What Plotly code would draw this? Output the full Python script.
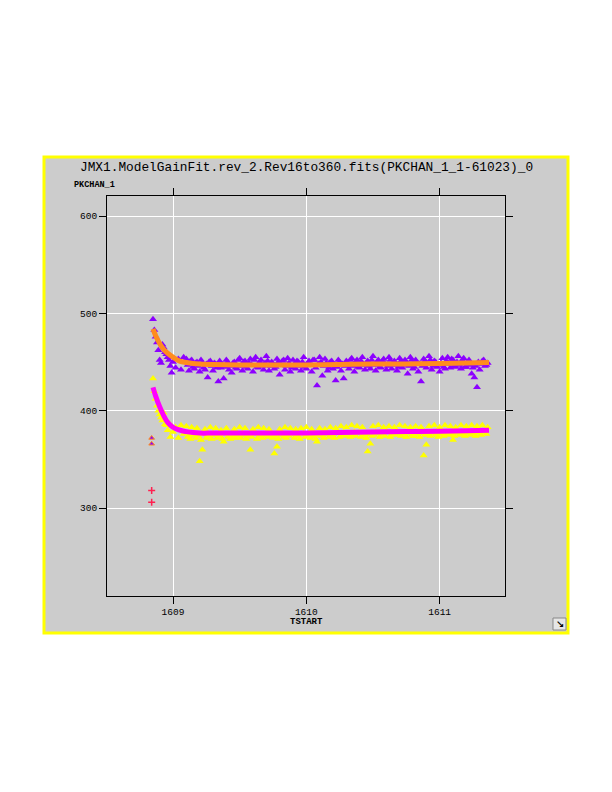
import plotly.graph_objects as go

# ---------------- data ----------------
x_early = [1608.85, 1608.86, 1608.87, 1608.88, 1608.89, 1608.90, 1608.91, 1608.92, 1608.93, 1608.94,
           1608.95, 1608.96, 1608.97, 1608.98, 1608.99, 1609.00, 1609.02, 1609.04, 1609.06, 1609.08]
purple_early = [494, 483, 476, 470, 462, 452, 449, 468, 465, 460,
                458, 455, 452, 446, 439, 450, 444, 453, 442, 455]
yellow_early = [433, 420, 412, 405, 400, 396, 393, 390, 398, 386,
                385, 380, 387, 373, 384, 378, 383, 372, 385, 376]

x_main = [
    1609.10, 1609.12, 1609.14, 1609.16, 1609.18, 1609.20, 1609.22, 1609.24, 1609.26, 1609.28,
    1609.30, 1609.32, 1609.34, 1609.36, 1609.38, 1609.40, 1609.42, 1609.44, 1609.46, 1609.48,
    1609.50, 1609.52, 1609.54, 1609.56, 1609.58, 1609.60, 1609.62, 1609.64, 1609.66, 1609.68,
    1609.70, 1609.72, 1609.74, 1609.76, 1609.78, 1609.80, 1609.82, 1609.84, 1609.86, 1609.88,
    1609.90, 1609.92, 1609.94, 1609.96, 1609.98, 1610.00, 1610.02, 1610.04, 1610.06, 1610.08,
    1610.10, 1610.12, 1610.14, 1610.16, 1610.18, 1610.20, 1610.22, 1610.24, 1610.26, 1610.28,
    1610.30, 1610.32, 1610.34, 1610.36, 1610.38, 1610.40, 1610.42, 1610.44, 1610.46, 1610.48,
    1610.50, 1610.52, 1610.54, 1610.56, 1610.58, 1610.60, 1610.62, 1610.64, 1610.66, 1610.68,
    1610.70, 1610.72, 1610.74, 1610.76, 1610.78, 1610.80, 1610.82, 1610.84, 1610.86, 1610.88,
    1610.90, 1610.92, 1610.94, 1610.96, 1610.98, 1611.00, 1611.02, 1611.04, 1611.06, 1611.08,
    1611.10, 1611.12, 1611.14, 1611.16, 1611.18, 1611.20, 1611.22, 1611.24, 1611.26, 1611.28,
    1611.30, 1611.32, 1611.34, 1611.36]

purple_main = [
    453, 441, 452, 443, 450, 440, 449, 442, 434, 451,
    441, 448, 430, 444, 433, 452, 442, 439, 450, 443,
    454, 441, 451, 443, 453, 440, 455, 444, 452, 442,
    456, 441, 450, 443, 453, 437, 451, 442, 454, 440,
    452, 443, 450, 441, 455, 443, 451, 440, 452, 426,
    455, 436, 453, 441, 450, 443, 431, 452, 441, 433,
    451, 443, 454, 440, 452, 444, 455, 442, 451, 443,
    456, 441, 452, 444, 453, 442, 455, 443, 451, 441,
    454, 444, 452, 438, 455, 443, 452, 440, 430, 453,
    444, 456, 442, 451, 445, 440, 454, 443, 455, 444,
    452, 445, 456, 443, 454, 445, 452, 438, 434, 424,
    442, 451, 446, 449]

yellow_main = [
    384, 374, 383, 376, 382, 348, 360, 381, 375, 383,
    377, 382, 375, 380, 368, 382, 376, 372, 381, 375,
    383, 377, 382, 374, 360, 381, 376, 383, 375, 382,
    377, 381, 374, 356, 363, 381, 376, 383, 375, 382,
    376, 381, 374, 382, 377, 383, 375, 381, 376, 368,
    382, 375, 381, 377, 383, 376, 382, 377, 384, 378,
    383, 377, 385, 378, 384, 377, 383, 376, 358, 366,
    384, 378, 385, 377, 383, 378, 384, 376, 383, 379,
    385, 377, 384, 378, 383, 374, 384, 378, 383, 354,
    365, 384, 378, 385, 377, 383, 379, 385, 376, 384,
    370, 383, 379, 385, 378, 384, 379, 385, 378, 384,
    379, 385, 380, 383]

x_main2 = [
    1609.11, 1609.13, 1609.15, 1609.17, 1609.19, 1609.21, 1609.23, 1609.25, 1609.27, 1609.29,
    1609.31, 1609.33, 1609.35, 1609.37, 1609.39, 1609.41, 1609.43, 1609.45, 1609.47, 1609.49,
    1609.51, 1609.53, 1609.55, 1609.57, 1609.59, 1609.61, 1609.63, 1609.65, 1609.67, 1609.69,
    1609.71, 1609.73, 1609.75, 1609.77, 1609.79, 1609.81, 1609.83, 1609.85, 1609.87, 1609.89,
    1609.91, 1609.93, 1609.95, 1609.97, 1609.99, 1610.01, 1610.03, 1610.05, 1610.07, 1610.09,
    1610.11, 1610.13, 1610.15, 1610.17, 1610.19, 1610.21, 1610.23, 1610.25, 1610.27, 1610.29,
    1610.31, 1610.33, 1610.35, 1610.37, 1610.39, 1610.41, 1610.43, 1610.45, 1610.47, 1610.49,
    1610.51, 1610.53, 1610.55, 1610.57, 1610.59, 1610.61, 1610.63, 1610.65, 1610.67, 1610.69,
    1610.71, 1610.73, 1610.75, 1610.77, 1610.79, 1610.81, 1610.83, 1610.85, 1610.87, 1610.89,
    1610.91, 1610.93, 1610.95, 1610.97, 1610.99, 1611.01, 1611.03, 1611.05, 1611.07, 1611.09,
    1611.11, 1611.13, 1611.15, 1611.17, 1611.19, 1611.21, 1611.23, 1611.25, 1611.27, 1611.29,
    1611.31, 1611.33, 1611.35]

purple_main2 = [
    447, 451, 445, 449, 446, 452, 444, 448, 450, 446,
    449, 444, 451, 447, 445, 450, 446, 449, 444, 452,
    446, 450, 445, 449, 447, 452, 445, 450, 446, 449,
    451, 446, 448, 445, 450, 447, 452, 446, 449, 444,
    448, 451, 446, 450, 445, 449, 447, 452, 444, 448,
    450, 446, 449, 444, 451, 447, 445, 450, 448, 446,
    449, 452, 446, 450, 445, 451, 447, 449, 446, 452,
    447, 450, 445, 451, 448, 446, 452, 447, 449, 445,
    451, 447, 450, 446, 452, 445, 449, 448, 446, 451,
    448, 452, 446, 450, 447, 449, 445, 451, 448, 453,
    446, 450, 447, 452, 445, 449, 447, 444, 446, 450,
    448, 452, 447]

yellow_main2 = [
    373, 371, 375, 372, 374, 370, 376, 372, 374, 371,
    375, 372, 374, 371, 376, 373, 371, 375, 372, 374,
    372, 375, 371, 374, 373, 376, 371, 374, 372, 375,
    373, 376, 372, 374, 371, 375, 373, 372, 374, 376,
    372, 374, 371, 376, 373, 375, 372, 374, 371, 375,
    374, 372, 376, 373, 375, 372, 377, 373, 375, 374,
    376, 373, 375, 374, 377, 373, 375, 372, 376, 374,
    375, 377, 373, 376, 374, 378, 373, 376, 375, 377,
    374, 376, 373, 377, 375, 374, 376, 373, 377, 375,
    376, 374, 377, 375, 373, 376, 374, 378, 375, 376,
    374, 377, 375, 376, 374, 377, 375, 376, 374, 377,
    375, 378, 376]

x_fit = [1608.85, 1608.87, 1608.90, 1608.93, 1608.96, 1609.00, 1609.05, 1609.10, 1609.15, 1609.20,
         1609.30, 1609.50, 1609.75, 1610.00, 1610.25, 1610.50, 1610.75, 1611.00, 1611.20, 1611.37]
orange_fit = [484, 477, 469, 463, 459, 455, 451, 449.5, 448.5, 448,
              447.5, 447, 447, 447, 447.5, 448, 448, 448.5, 449, 449.5]
magenta_fit = [424, 415, 404, 395, 388, 383, 380, 378.5, 377.5, 377,
               377, 377, 377, 377, 377.5, 378, 378.5, 379, 379.5, 380]

x_outlier_tri = [1608.84, 1608.84]
y_outlier_tri = [372, 366]
x_outlier_plus = [1608.84, 1608.84]
y_outlier_plus = [318, 306]

x_ticks = [1609, 1610, 1611]
y_ticks = [300, 400, 500, 600]

title_text = "JMX1.ModelGainFit.rev_2.Rev16to360.fits(PKCHAN_1_1-61023)_0"
y_label = "PKCHAN_1"
x_label = "TSTART"

# ---------------- figure ----------------
PURPLE = "#8C00FF"
YELLOW = "#FFFF00"
ORANGE = "#FF8C1E"
MAGENTA = "#FF00FF"
GRAY = "#CCCCCC"
MONO = "Liberation Mono, DejaVu Sans Mono, monospace"

fig = go.Figure()

tri_y = dict(symbol="triangle-up", size=7, color=YELLOW, line=dict(width=0))
tri_p = dict(symbol="triangle-up", size=7, color=PURPLE, line=dict(width=0))

fig.add_trace(go.Scatter(x=x_main2, y=yellow_main2, mode="markers", marker=tri_y, hoverinfo="skip"))
fig.add_trace(go.Scatter(x=x_early + x_main, y=yellow_early + yellow_main, mode="markers",
                         marker=tri_y, hoverinfo="skip"))
fig.add_trace(go.Scatter(x=x_main2, y=purple_main2, mode="markers", marker=tri_p, hoverinfo="skip"))
fig.add_trace(go.Scatter(x=x_early + x_main, y=purple_early + purple_main, mode="markers",
                         marker=tri_p, hoverinfo="skip"))
fig.add_trace(go.Scatter(x=x_fit, y=magenta_fit, mode="lines",
                         line=dict(color=MAGENTA, width=5, shape="spline"), hoverinfo="skip"))
fig.add_trace(go.Scatter(x=x_fit, y=orange_fit, mode="lines",
                         line=dict(color=ORANGE, width=5, shape="spline"), hoverinfo="skip"))
fig.add_trace(go.Scatter(x=x_outlier_tri, y=y_outlier_tri, mode="markers",
                         marker=dict(symbol="triangle-up", size=5, color=PURPLE,
                                     line=dict(width=1, color=ORANGE)), hoverinfo="skip"))
fig.add_trace(go.Scatter(x=x_outlier_plus, y=y_outlier_plus, mode="markers",
                         marker=dict(symbol="cross-thin", size=5, color="#FF2050",
                                     line=dict(width=1.5, color="#FF2050")), hoverinfo="skip"))

fig.update_layout(
    width=612, height=792,
    margin=dict(l=99, r=115, t=188, b=204, pad=0),
    paper_bgcolor="white",
    plot_bgcolor=GRAY,
    showlegend=False,
    font=dict(family=MONO, color="black"),
    shapes=[
        dict(type="rect", xref="paper", yref="paper",
             x0=-0.1583, x1=1.1583, y0=-0.0925, y1=1.0975,
             fillcolor=GRAY, line=dict(color=YELLOW, width=3), layer="below"),
        dict(type="rect", xref="paper", yref="paper",
             x0=1.1206, x1=1.1533, y0=-0.085, y1=-0.055,
             fillcolor="#E6E6E6", line=dict(color="#888888", width=1), layer="above"),
    ],
    annotations=[
        dict(text=title_text, xref="paper", yref="paper", x=0.5, y=1.0725,
             xanchor="center", yanchor="middle", showarrow=False,
             font=dict(family=MONO, size=12.8, color="black")),
        dict(text="<b>" + y_label + "</b>", xref="paper", yref="paper", x=-0.088, y=1.0275,
             xanchor="left", yanchor="middle", showarrow=False,
             font=dict(family=MONO, size=8.5, color="black")),
        dict(text="<b>" + x_label + "</b>", xref="paper", yref="paper", x=0.5, y=-0.065,
             xanchor="center", yanchor="middle", showarrow=False,
             font=dict(family=MONO, size=9, color="black")),
        dict(text="<b>↘</b>", xref="paper", yref="paper", x=1.137, y=-0.07,
             xanchor="center", yanchor="middle", showarrow=False,
             font=dict(family="DejaVu Sans", size=10, color="black")),
    ],
)

fig.update_xaxes(range=[1608.505, 1611.49], tickvals=x_ticks, ticktext=[str(v) for v in x_ticks],
                 showgrid=True, gridcolor="white", gridwidth=1, zeroline=False,
                 showline=True, linecolor="black", linewidth=1, mirror="allticks",
                 ticks="outside", ticklen=7, tickcolor="black", tickwidth=1,
                 tickfont=dict(family=MONO, size=9.5, color="black"))
fig.update_yaxes(range=[209.6, 620.6], tickvals=y_ticks, ticktext=[str(v) for v in y_ticks],
                 showgrid=True, gridcolor="white", gridwidth=1, zeroline=False,
                 showline=True, linecolor="black", linewidth=1, mirror="allticks",
                 ticks="outside", ticklen=7, tickcolor="black", tickwidth=1,
                 tickfont=dict(family=MONO, size=9.5, color="black"))

fig.write_html("out.html")
